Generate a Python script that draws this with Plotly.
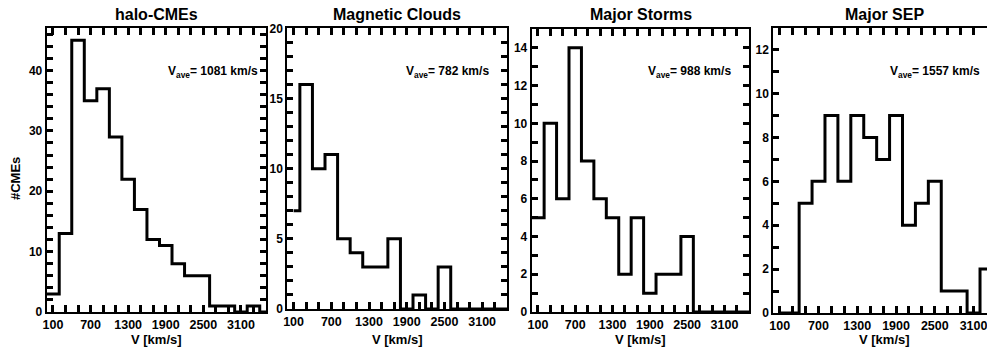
import plotly.graph_objects as go

# Speed bins: 200 km/s wide, left edges 0, 200, ..., 3400
BIN_WIDTH = 200
BIN_LEFT = list(range(0, 3600, BIN_WIDTH))

panel_titles = ["halo-CMEs", "Magnetic Clouds", "Major Storms", "Major SEP"]
v_average = [1081, 782, 988, 1557]

halo_counts = [3, 13, 45, 35, 37, 29, 22, 17, 12, 11, 8, 6, 6, 1, 1, 0, 1, 0]
mc_counts = [7, 16, 10, 11, 5, 4, 3, 3, 5, 0, 1, 0, 3, 0, 0, 0, 0, 0]
storm_counts = [5, 10, 6, 14, 8, 6, 5, 2, 5, 1, 2, 2, 4, 0, 0, 0, 0, 0]
sep_counts = [0, 0, 5, 6, 9, 6, 9, 8, 7, 9, 4, 5, 6, 1, 1, 0, 2]

# where each step curve begins (km/s)
curve_start = [0, 100, 0, 100]

x_tick_vals = [100, 700, 1300, 1900, 2500, 3100]
x_tick_step = 200
y_ranges = [[0, 47], [0, 20], [0, 15], [0, 13]]
y_dticks = [10, 5, 2, 2]
y_minor = [2, 1, 1, 1]
x_ranges = [[0, 3500], [0, 3500], [0, 3500], [0, 3308]]

W, H = 987, 352
# panel frames in pixels: (left, right, top, bottom)
frames = [
    (46.7, 266.0, 28.3, 312.0),
    (287.3, 507.3, 28.3, 309.0),
    (531.7, 749.3, 29.0, 312.0),
    (773.3, 987.0, 27.7, 313.0),
]
title_cx = [156.4, 397.3, 640.5, 884.0]
vave_left = [166, 404, 646, 888]

FONT = "Arial, Liberation Sans, sans-serif"

all_counts = [halo_counts, mc_counts, storm_counts, sep_counts]

fig = go.Figure()
for i, counts in enumerate(all_counts):
    n = len(counts)
    xs = [curve_start[i]] + BIN_LEFT[1:n] + [BIN_LEFT[n - 1] + BIN_WIDTH]
    ys = list(counts) + [counts[-1]]
    ax = "" if i == 0 else str(i + 1)
    fig.add_trace(go.Scatter(
        x=xs, y=ys, mode="lines", line=dict(color="black", width=3, shape="hv"),
        xaxis="x" + ax, yaxis="y" + ax, showlegend=False, hoverinfo="skip",
    ))

layout = dict(
    width=W, height=H, margin=dict(l=0, r=0, t=0, b=0, autoexpand=False),
    paper_bgcolor="white", plot_bgcolor="white",
    font=dict(family=FONT, color="black"),
    annotations=[],
)

for i in range(4):
    l, r, t, b = frames[i]
    ax = "" if i == 0 else str(i + 1)
    # a tick every 200 km/s, labelled every 600 km/s
    all_x_ticks = list(range(100, int(x_ranges[i][1]) + 1, x_tick_step))
    # a tick every minor step, labelled at the major steps
    y_top = int(y_ranges[i][1])
    all_y_ticks = list(range(0, y_top + 1, y_minor[i]))
    layout["xaxis" + ax] = dict(
        domain=[l / W, r / W], range=x_ranges[i], anchor="y" + ax,
        tickmode="array", tickvals=all_x_ticks,
        ticktext=["<b>%d</b>" % v if v in x_tick_vals else "" for v in all_x_ticks],
        ticks="inside", ticklen=7, tickwidth=2.5, tickcolor="black",
        showline=True, linecolor="black", linewidth=2, mirror="ticks",
        showgrid=False, zeroline=False, ticklabeloverflow="allow",
        tickfont=dict(family=FONT, size=12.5, color="black"),
    )
    layout["yaxis" + ax] = dict(
        domain=[1 - b / H, 1 - t / H], range=y_ranges[i], anchor="x" + ax,
        tickmode="array", tickvals=all_y_ticks,
        ticktext=["<b>%d</b>" % v if v % y_dticks[i] == 0 else "" for v in all_y_ticks],
        ticks="inside", ticklen=6, tickwidth=2.5, tickcolor="black",
        showline=True, linecolor="black", linewidth=2,
        mirror="ticks" if i < 3 else False,
        showgrid=False, zeroline=False, ticklabeloverflow="allow",
        tickfont=dict(family=FONT, size=12, color="black"),
    )
    # panel title
    layout["annotations"].append(dict(
        text="<b>%s</b>" % panel_titles[i], x=title_cx[i] / W, y=1 - 15 / H,
        xref="paper", yref="paper", xanchor="center", yanchor="middle",
        showarrow=False, font=dict(family=FONT, size=16, color="black"),
    ))
    # average speed
    layout["annotations"].append(dict(
        text="<b>V<sub>ave</sub>= %d km/s</b>" % v_average[i],
        x=vave_left[i] / W, y=1 - 72 / H,
        xref="paper", yref="paper", xanchor="left", yanchor="middle",
        showarrow=False, font=dict(family=FONT, size=12, color="black"),
    ))
    # x axis title
    layout["annotations"].append(dict(
        text="<b>V [km/s]</b>", x=title_cx[i] / W, y=1 - 339 / H,
        xref="paper", yref="paper", xanchor="center", yanchor="middle",
        showarrow=False, font=dict(family=FONT, size=13, color="black"),
    ))

layout["annotations"].append(dict(
    text="<b>#CMEs</b>", x=15 / W, y=1 - 179 / H, textangle=-90,
    xref="paper", yref="paper", xanchor="center", yanchor="middle",
    showarrow=False, font=dict(family=FONT, size=13, color="black"),
))

fig.update_layout(**layout)
fig.write_html("out.html")
